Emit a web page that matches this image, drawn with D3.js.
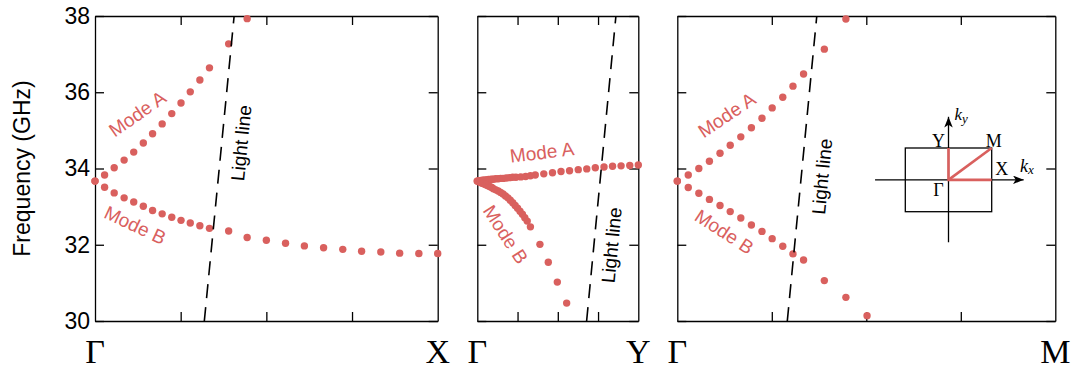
<!DOCTYPE html>
<html>
<head>
<meta charset="utf-8">
<script src="https://cdn.jsdelivr.net/npm/d3@7/dist/d3.min.js"></script>
<style>
  body { margin: 0; background: #fff; }
  svg { display: block; }
  text { font-family: "Liberation Sans", Arial, sans-serif; }
  .serif { font-family: "Liberation Serif", "Times New Roman", serif; }
</style>
</head>
<body>
<svg id="chart" width="1079" height="370"></svg>
<script>
// ---- data (k is the fraction of each path, f in GHz) ----
// Gamma -> X
var kGX_A = [0, 0.028, 0.056, 0.085, 0.113, 0.141, 0.168, 0.196, 0.224, 0.251, 0.278, 0.306, 0.334, 0.390, 0.444];
var fGX_A = [33.67, 33.83, 34.02, 34.22, 34.43, 34.67, 34.91, 35.17, 35.44, 35.72, 36.01, 36.32, 36.64, 37.27, 37.93];
var kGX_B = [0, 0.028, 0.056, 0.085, 0.113, 0.141, 0.168, 0.196, 0.224, 0.251, 0.278, 0.306, 0.334, 0.390, 0.444,
             0.500, 0.556, 0.611, 0.667, 0.723, 0.778, 0.834, 0.889, 0.945, 1.0];
var fGX_B = [33.67, 33.51, 33.36, 33.23, 33.12, 33.01, 32.90, 32.81, 32.72, 32.64, 32.57, 32.50, 32.43, 32.36, 32.19,
             32.12, 32.04, 31.97, 31.92, 31.88, 31.83, 31.81, 31.78, 31.77, 31.77];

// Gamma -> Y
var kGY_A = [0, 0.01, 0.02, 0.03, 0.04, 0.05, 0.06, 0.07, 0.08, 0.09, 0.10, 0.115, 0.13, 0.145, 0.16, 0.18, 0.20,
             0.22, 0.24, 0.27, 0.30, 0.33, 0.36, 0.413, 0.467, 0.52, 0.573, 0.627, 0.68, 0.733, 0.787, 0.84,
             0.893, 0.947, 1.0];
var fGY_A = [33.67, 33.68, 33.68, 33.69, 33.69, 33.70, 33.70, 33.71, 33.71, 33.72, 33.72, 33.73, 33.73, 33.74, 33.74,
             33.75, 33.76, 33.77, 33.77, 33.78, 33.79, 33.81, 33.83, 33.86, 33.89, 33.92, 33.94, 33.97, 33.99,
             34.02, 34.04, 34.06, 34.07, 34.08, 34.09];
var kGY_B = [0, 0.01, 0.02, 0.03, 0.04, 0.05, 0.06, 0.07, 0.08, 0.09, 0.10, 0.115, 0.13, 0.145, 0.16, 0.175, 0.19,
             0.205, 0.22, 0.235, 0.25, 0.265, 0.28, 0.295, 0.31, 0.33, 0.389, 0.441, 0.497, 0.555];
var fGY_B = [33.67, 33.65, 33.63, 33.61, 33.60, 33.58, 33.56, 33.54, 33.52, 33.50, 33.47, 33.44, 33.41, 33.37, 33.33,
             33.28, 33.23, 33.17, 33.10, 33.03, 32.96, 32.88, 32.80, 32.71, 32.62, 32.47, 32.01, 31.54, 31.02, 30.47];

// Gamma -> M
var kGM_A = [0, 0.029, 0.057, 0.085, 0.113, 0.140, 0.168, 0.196, 0.224, 0.251, 0.279, 0.306, 0.334, 0.389, 0.446];
var fGM_A = [33.67, 33.83, 34.00, 34.19, 34.40, 34.61, 34.83, 35.07, 35.32, 35.59, 35.87, 36.16, 36.48, 37.13, 37.92];
var kGM_B = [0, 0.029, 0.057, 0.085, 0.113, 0.140, 0.168, 0.196, 0.224, 0.251, 0.279, 0.306, 0.334, 0.389, 0.446, 0.502];
var fGM_B = [33.67, 33.50, 33.35, 33.19, 33.03, 32.87, 32.70, 32.52, 32.35, 32.16, 31.96, 31.76, 31.60, 31.06, 30.62, 30.14];

// light line end points
var fLight = [30, 38];
var kLightGX = [0.319, 0.406];
var kLightGY = [0.679, 0.861];
var kLightGM = [0.291, 0.369];

var yTicks = [30, 32, 34, 36, 38];
var xTicks = [0.25, 0.5, 0.75];

// ---- layout ----
var svg = d3.select("#chart");
var top_ = 16, bottom = 321;
var red = "#d9605e";
var y = d3.scaleLinear().domain([30, 38]).range([bottom, top_]);

var panels = [
  {x0: 95, x1: 437.7, start: "\u0393", end: "X", A: [kGX_A, fGX_A], B: [kGX_B, fGX_B], light: kLightGX, yLabels: true,
   modeA: [0.124, 35.43, -35], modeB: [0.117, 32.51, 25], lightLbl: [0.427, 34.67]},
  {x0: 477.3, x1: 638.3, start: "\u0393", end: "Y", A: [kGY_A, fGY_A], B: [kGY_B, fGY_B], light: kLightGY, yLabels: false,
   modeA: [0.402, 34.42, -7], modeB: [0.175, 32.27, 57], lightLbl: [0.835, 31.99]},
  {x0: 677.3, x1: 1055.3, start: "\u0393", end: "M", A: [kGM_A, fGM_A], B: [kGM_B, fGM_B], light: kLightGM, yLabels: false,
   modeA: [0.131, 35.40, -34], modeB: [0.124, 32.34, 33], lightLbl: [0.383, 33.79]}
];

panels.forEach(function(p) {
  var x = d3.scaleLinear().domain([0, 1]).range([p.x0, p.x1]);
  var g = svg.append("g");

  // frame with inward ticks
  var axB = g.append("g").attr("transform", "translate(0," + bottom + ")")
    .call(d3.axisBottom(x).tickValues(xTicks).tickSizeInner(-9).tickSizeOuter(0).tickFormat(""));
  var axT = g.append("g").attr("transform", "translate(0," + top_ + ")")
    .call(d3.axisTop(x).tickValues(xTicks).tickSizeInner(-9).tickSizeOuter(0).tickFormat(""));
  var axL = g.append("g").attr("transform", "translate(" + p.x0 + ",0)")
    .call(d3.axisLeft(y).tickValues(yTicks).tickSizeInner(-9).tickSizeOuter(0).tickPadding(5)
      .tickFormat(p.yLabels ? d3.format("d") : ""));
  var axR = g.append("g").attr("transform", "translate(" + p.x1 + ",0)")
    .call(d3.axisRight(y).tickValues(yTicks).tickSizeInner(-9).tickSizeOuter(0).tickFormat(""));
  [axB, axT, axL, axR].forEach(function(a) {
    a.selectAll("path, line").attr("stroke", "#000").attr("stroke-width", 1.3);
  });
  axL.selectAll("text").attr("font-size", 23).attr("fill", "#000")
    .style("font-family", "'Liberation Sans', Arial, sans-serif");

  // points
  [p.A, p.B].forEach(function(m) {
    g.selectAll(null).data(d3.zip(m[0], m[1])).enter().append("circle")
      .attr("cx", function(d) { return x(d[0]); })
      .attr("cy", function(d) { return y(d[1]); })
      .attr("r", 3.7)
      .attr("fill", red);
  });

  // light line
  var ll = d3.zip(p.light, fLight);
  g.append("path").datum(ll)
    .attr("d", d3.line().x(function(d) { return x(d[0]); }).y(function(d) { return y(d[1]); }))
    .attr("fill", "none").attr("stroke", "#000").attr("stroke-width", 1.6)
    .attr("stroke-dasharray", "14,9");
  var ang = Math.atan2(y(ll[1][1]) - y(ll[0][1]), x(ll[1][0]) - x(ll[0][0])) * 180 / Math.PI;

  g.append("text")
    .attr("transform", "translate(" + x(p.lightLbl[0]) + "," + y(p.lightLbl[1]) + ") rotate(" + ang + ")")
    .attr("text-anchor", "middle").attr("dominant-baseline", "central")
    .attr("font-size", 19).attr("fill", "#000").text("Light line");

  // mode labels
  [["Mode A", p.modeA], ["Mode B", p.modeB]].forEach(function(l) {
    g.append("text")
      .attr("transform", "translate(" + x(l[1][0]) + "," + y(l[1][1]) + ") rotate(" + l[1][2] + ")")
      .attr("text-anchor", "middle").attr("dominant-baseline", "central")
      .attr("font-size", 19).attr("fill", red).text(l[0]);
  });

  // symmetry point labels
  g.append("text").attr("class", "serif").attr("x", x(0)).attr("y", 363)
    .attr("text-anchor", "middle").attr("font-size", 34).text(p.start);
  g.append("text").attr("class", "serif").attr("x", x(1)).attr("y", 363)
    .attr("text-anchor", "middle").attr("font-size", 34).text(p.end);
});

// y axis title
svg.append("text")
  .attr("transform", "translate(22," + ((top_ + bottom) / 2) + ") rotate(-90)")
  .attr("text-anchor", "middle").attr("dominant-baseline", "central")
  .attr("font-size", 23).text("Frequency (GHz)");

// ---- Brillouin zone inset ----
var ix = d3.scaleLinear().domain([-1, 1]).range([905.3, 991.7]);
var iy = d3.scaleLinear().domain([-1, 1]).range([211.7, 148]);
var inset = svg.append("g");

svg.append("defs").append("marker")
  .attr("id", "arrow").attr("viewBox", "0 0 10 8")
  .attr("refX", 10).attr("refY", 4)
  .attr("markerWidth", 11).attr("markerHeight", 8.5)
  .attr("markerUnits", "userSpaceOnUse").attr("orient", "auto")
  .append("path").attr("d", "M0,0 L10,4 L0,8 L2.5,4 Z").attr("fill", "#000");

inset.append("rect")
  .attr("x", ix(-1)).attr("y", iy(1))
  .attr("width", ix(1) - ix(-1)).attr("height", iy(-1) - iy(1))
  .attr("fill", "none").attr("stroke", "#000").attr("stroke-width", 1.3);
inset.append("line")
  .attr("x1", ix(-1.7)).attr("y1", iy(0)).attr("x2", ix(1.74)).attr("y2", iy(0))
  .attr("stroke", "#000").attr("stroke-width", 1.3).attr("marker-end", "url(#arrow)");
inset.append("line")
  .attr("x1", ix(0)).attr("y1", iy(-1.96)).attr("x2", ix(0)).attr("y2", iy(1.98))
  .attr("stroke", "#000").attr("stroke-width", 1.3).attr("marker-end", "url(#arrow)");

// path Y - Gamma - X and Gamma - M
var bzPath = [[0, 1], [0, 0], [1, 0]];
var bzDiag = [[0, 0], [1, 1]];
var il = d3.line().x(function(d) { return ix(d[0]); }).y(function(d) { return iy(d[1]); });
[bzPath, bzDiag].forEach(function(pp) {
  inset.append("path").datum(pp).attr("d", il)
    .attr("fill", "none").attr("stroke", red).attr("stroke-width", 2.6);
});

var bzLabels = [["Y", 0, 1, -10, -7], ["M", 1, 1, 2, -7], ["X", 1, 0, 10, -11], ["\u0393", 0, 0, -10, 10]];
bzLabels.forEach(function(b) {
  inset.append("text").attr("class", "serif")
    .attr("x", ix(b[1]) + b[3]).attr("y", iy(b[2]) + b[4])
    .attr("text-anchor", "middle").attr("dominant-baseline", "central")
    .attr("font-size", 18).text(b[0]);
});

var ky = inset.append("text").attr("class", "serif").attr("font-style", "italic")
  .attr("x", ix(0) + 6).attr("y", 120).attr("font-size", 17);
ky.append("tspan").text("k");
ky.append("tspan").attr("font-size", 13).attr("dy", 3).text("y");
var kx = inset.append("text").attr("class", "serif").attr("font-style", "italic")
  .attr("x", 1020).attr("y", 171.5).attr("font-size", 18);
kx.append("tspan").text("k");
kx.append("tspan").attr("font-size", 13).attr("dy", 2).text("x");
</script>
</body>
</html>
